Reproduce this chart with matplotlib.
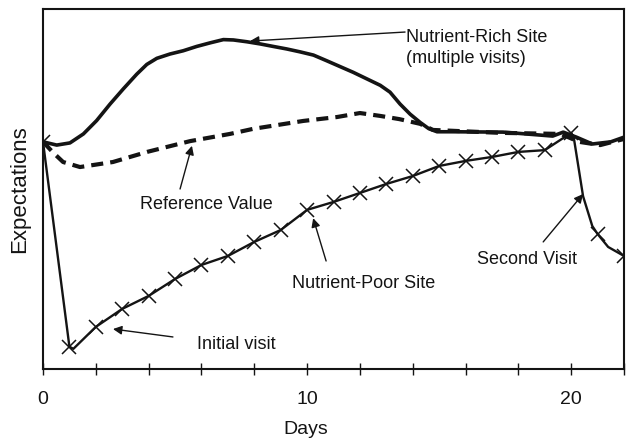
import numpy as np
import matplotlib
matplotlib.use("Agg")
import matplotlib.pyplot as plt

plt.rcParams['font.family'] = ['Liberation Sans', 'DejaVu Sans']

# --- data ---
rich_days = [0, 0.52, 1.02, 1.53, 2.03, 2.54, 3.04, 3.55, 3.93, 4.31, 4.81, 5.31, 5.82,
             6.33, 6.83, 7.21, 7.72, 8.22, 8.72, 9.23, 9.73, 10.24, 10.75, 11.25, 11.75,
             12.26, 12.77, 13.14, 13.52, 13.90, 14.28, 14.6, 14.92, 15.5, 17.42, 19.3,
             19.7, 20.2, 20.8, 21.5, 22.0]
rich_vals = [63.1, 62.2, 62.8, 65.3, 69.0, 73.6, 77.8, 81.9, 84.6, 86.3, 87.5, 88.4, 89.6,
             90.6, 91.5, 91.4, 90.9, 90.3, 89.6, 88.9, 88.1, 87.2, 85.6, 84.0, 82.4,
             80.6, 78.8, 76.9, 73.6, 70.8, 68.5, 66.8, 65.9, 65.9, 65.8, 64.7,
             65.8, 64.4, 62.5, 63.1, 64.4]

ref_days = [0, 0.4, 0.76, 1.4, 2.65, 3.94, 5.57, 7.08, 7.95, 9.85, 11.14, 12.0, 12.77,
            13.5, 14.28, 14.77, 17.3, 19.6, 20.3, 21.1, 22.0]
ref_vals = [63.1, 60.0, 57.5, 56.1, 57.5, 60.3, 63.3, 65.3, 66.7, 68.9, 70.0, 71.1, 70.3,
            69.4, 68.1, 66.4, 65.6, 65.3, 63.1, 62.2, 63.9]

poor_days = [0, 1, 1.15, 2, 3, 4, 5, 6, 7, 8, 9, 10, 11, 12, 13, 14, 15, 16, 17, 18, 19,
             20, 20.1, 20.45, 20.8, 21, 21.4, 22]
poor_vals = [63.1, 6.2, 5.6, 11.7, 16.7, 20.3, 25.0, 28.9, 31.4, 35.3, 38.6, 44.2, 46.4,
             48.9, 51.4, 53.6, 56.4, 57.8, 58.9, 60.3, 60.8, 65.6, 64.2, 48.0, 39.7, 37.5,
             33.9, 31.4]

x_ticks = list(range(0, 23, 2))
x_tick_labels = ['0' if t == 0 else '10' if t == 10 else '20' if t == 20 else '' for t in x_ticks]

ink = '#141414'

fig = plt.figure(figsize=(6.27, 4.39), dpi=100)
ax = fig.add_axes([43 / 627, (439 - 370) / 439, (624 - 43) / 627, 360 / 439])
ax.set_xlim(0, 22)
ax.set_ylim(0, 100)

ax.plot(ref_days, ref_vals, color=ink, lw=3.0, dashes=(2.9, 1.7), solid_capstyle='butt',
        dash_capstyle='butt', zorder=2)
ax.plot(rich_days, rich_vals, color=ink, lw=2.6, zorder=3, solid_joinstyle='round')
mark = [float(d).is_integer() for d in poor_days]
ax.plot(poor_days, poor_vals, color=ink, lw=1.7, marker='x', markersize=10,
        markeredgewidth=1.1, markevery=mark, zorder=4)

for s in ax.spines.values():
    s.set_color(ink)
    s.set_linewidth(1.5)

ax.set_yticks([])
ax.set_xticks(x_ticks)
ax.set_xticklabels(x_tick_labels, fontsize=14)
ax.tick_params(axis='x', direction='inout', length=8, width=1.0, color=ink, pad=11,
               labelcolor=ink)

ax.set_xlabel('Days', fontsize=14, color=ink)
ax.xaxis.set_label_coords((306 - 43) / 581, (370 - 430) / 360)
ax.xaxis.label.set_va('center')
ax.set_ylabel('Expectations', fontsize=16, color=ink)
ax.yaxis.set_label_coords((20 - 43) / 581, (370 - 189) / 360)
ax.yaxis.label.set_va('center')

def arrow(tail, head):
    ax.annotate('', xy=head, xytext=tail,
                arrowprops=dict(arrowstyle='-|>', color=ink, lw=1.0, mutation_scale=13,
                                shrinkA=0, shrinkB=0))

fs = 13
ax.text(13.75, 89.4, 'Nutrient-Rich Site\n(multiple visits)', fontsize=fs, ha='left',
        va='center', linespacing=1.3, color=ink)
arrow((13.71, 93.6), (7.84, 91.1))

ax.text(6.17, 46.1, 'Reference Value', fontsize=fs, ha='center', va='center', color=ink)
arrow((5.19, 50.0), (5.64, 62.0))

ax.text(9.43, 23.9, 'Nutrient-Poor Site', fontsize=fs, ha='left', va='center', color=ink)
arrow((10.72, 30.0), (10.23, 41.9))

ax.text(5.83, 7.2, 'Initial visit', fontsize=fs, ha='left', va='center', color=ink)
arrow((4.92, 8.9), (2.65, 11.1))

ax.text(16.44, 30.6, 'Second Visit', fontsize=fs, ha='left', va='center', color=ink)
arrow((18.94, 35.3), (20.45, 48.6))

fig.savefig('out.png', dpi=100)
